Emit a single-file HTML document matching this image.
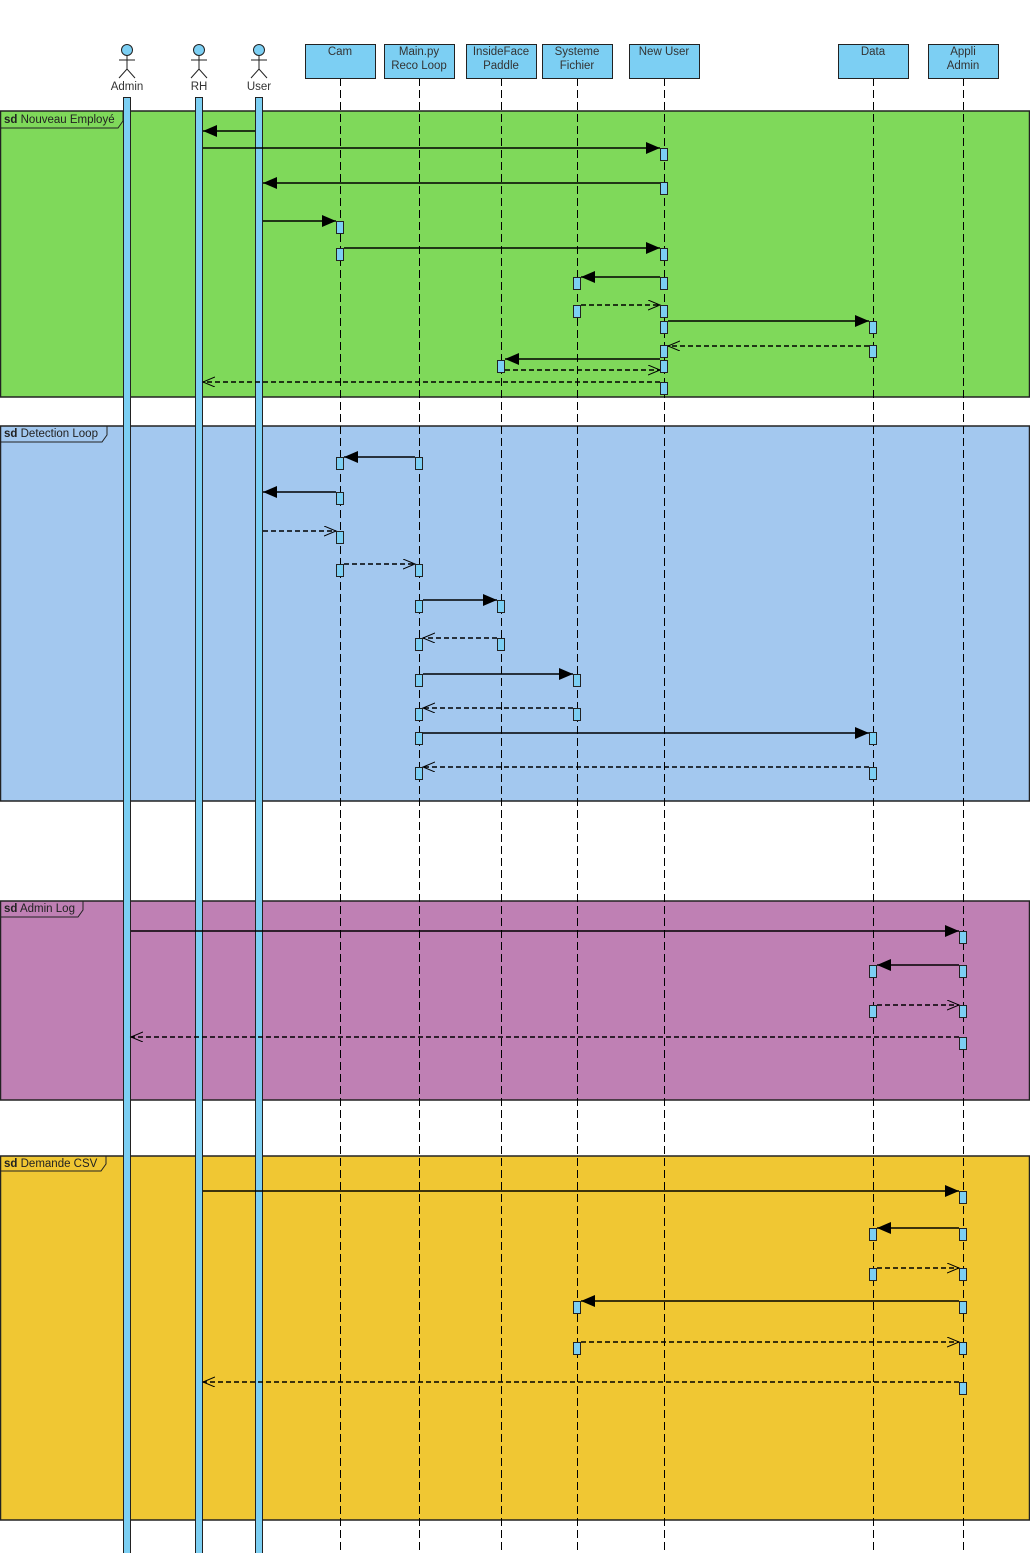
<!DOCTYPE html>
<html><head><meta charset="utf-8"><style>
html,body{margin:0;padding:0;background:#fff;}
svg{display:block;font-family:"Liberation Sans",Arial,sans-serif;}
</style></head><body>
<svg width="1030" height="1553" viewBox="0 0 1030 1553" xmlns="http://www.w3.org/2000/svg">
<defs>
<marker id="f" markerUnits="userSpaceOnUse" markerWidth="16" markerHeight="14" refX="14" refY="6" orient="auto"><path d="M0,0 L14,6 L0,12 z" fill="#000"/></marker>
<marker id="o" markerUnits="userSpaceOnUse" markerWidth="16" markerHeight="14" refX="12" refY="5" orient="auto"><path d="M0,0 L12,5 L0,10" fill="none" stroke="#000" stroke-width="1"/></marker>
</defs>
<rect x="0.5" y="111" width="1029" height="286" fill="#7fd95a" stroke="#222" stroke-width="1.5"/>
<rect x="0.5" y="426" width="1029" height="375" fill="#a3c8ef" stroke="#222" stroke-width="1.5"/>
<rect x="0.5" y="901" width="1029" height="199" fill="#bf80b4" stroke="#222" stroke-width="1.5"/>
<rect x="0.5" y="1156" width="1029" height="364" fill="#f0c733" stroke="#222" stroke-width="1.5"/>
<g fill="none" stroke="#222" stroke-width="1">
<path d="M0.5,128 H118 L123,121 V111"/>
<path d="M0.5,442 H102 L107,435 V426"/>
<path d="M0.5,917 H78 L83,910 V901"/>
<path d="M0.5,1171 H101 L106,1164 V1156"/>
</g>
<g font-size="11.5" fill="#222">
<text x="4" y="123"><tspan font-weight="bold">sd</tspan> Nouveau Employé</text>
<text x="4" y="437"><tspan font-weight="bold">sd</tspan> Detection Loop</text>
<text x="4" y="912"><tspan font-weight="bold">sd</tspan> Admin Log</text>
<text x="4" y="1167"><tspan font-weight="bold">sd</tspan> Demande CSV</text>
</g>
<g stroke="#000" stroke-width="1" stroke-dasharray="8,4">
<line x1="340.5" y1="78" x2="340.5" y2="1553"/>
<line x1="419.5" y1="78" x2="419.5" y2="1553"/>
<line x1="501.5" y1="78" x2="501.5" y2="1553"/>
<line x1="577.5" y1="78" x2="577.5" y2="1553"/>
<line x1="664.5" y1="78" x2="664.5" y2="1553"/>
<line x1="873.5" y1="78" x2="873.5" y2="1553"/>
<line x1="963.5" y1="78" x2="963.5" y2="1553"/>
</g>
<g fill="#7ccff3" stroke="#222" stroke-width="1">
<rect x="305.5" y="44.5" width="70" height="34"/>
<rect x="384.5" y="44.5" width="70" height="34"/>
<rect x="466.5" y="44.5" width="70" height="34"/>
<rect x="542.5" y="44.5" width="70" height="34"/>
<rect x="629.5" y="44.5" width="70" height="34"/>
<rect x="838.5" y="44.5" width="70" height="34"/>
<rect x="928.5" y="44.5" width="70" height="34"/>
</g>
<g font-size="11.5" fill="#333" text-anchor="middle">
<text x="340" y="55">Cam</text>
<text x="419" y="55">Main.py</text><text x="419" y="69">Reco Loop</text>
<text x="501" y="55">InsideFace</text><text x="501" y="69">Paddle</text>
<text x="577" y="55">Systeme</text><text x="577" y="69">Fichier</text>
<text x="664" y="55">New User</text>
<text x="873" y="55">Data</text>
<text x="963" y="55">Appli</text><text x="963" y="69">Admin</text>
<text x="127" y="90">Admin</text>
<text x="199" y="90">RH</text>
<text x="259" y="90">User</text>
</g>
<g stroke="#222" stroke-width="1" fill="#7ccff3">
<circle cx="127" cy="50" r="5.5"/><path d="M127,55.5 V69 M119,60 H135 M119,78 L127,69 L135,78" fill="none"/>
<circle cx="199" cy="50" r="5.5"/><path d="M199,55.5 V69 M191,60 H207 M191,78 L199,69 L207,78" fill="none"/>
<circle cx="259" cy="50" r="5.5"/><path d="M259,55.5 V69 M251,60 H267 M251,78 L259,69 L267,78" fill="none"/>
<rect x="123.5" y="97.5" width="7" height="1460"/>
<rect x="195.5" y="97.5" width="7" height="1460"/>
<rect x="255.5" y="97.5" width="7" height="1460"/>
</g>
<g stroke="#000" stroke-width="1.4" fill="none">
<line x1="255" y1="131" x2="203" y2="131" marker-end="url(#f)"/>
<line x1="203" y1="148" x2="660" y2="148" marker-end="url(#f)"/>
<line x1="660" y1="183" x2="263" y2="183" marker-end="url(#f)"/>
<line x1="263" y1="221" x2="336" y2="221" marker-end="url(#f)"/>
<line x1="344" y1="248" x2="660" y2="248" marker-end="url(#f)"/>
<line x1="660" y1="277" x2="581" y2="277" marker-end="url(#f)"/>
<line x1="581" y1="305" x2="660" y2="305" stroke-dasharray="5,3" marker-end="url(#o)"/>
<line x1="668" y1="321" x2="869" y2="321" marker-end="url(#f)"/>
<line x1="869" y1="346" x2="668" y2="346" stroke-dasharray="5,3" marker-end="url(#o)"/>
<line x1="660" y1="359" x2="505" y2="359" marker-end="url(#f)"/>
<line x1="505" y1="370" x2="660" y2="370" stroke-dasharray="5,3" marker-end="url(#o)"/>
<line x1="660" y1="382" x2="203" y2="382" stroke-dasharray="5,3" marker-end="url(#o)"/>
<line x1="415" y1="457" x2="344" y2="457" marker-end="url(#f)"/>
<line x1="336" y1="492" x2="263" y2="492" marker-end="url(#f)"/>
<line x1="263" y1="531" x2="336" y2="531" stroke-dasharray="5,3" marker-end="url(#o)"/>
<line x1="344" y1="564" x2="415" y2="564" stroke-dasharray="5,3" marker-end="url(#o)"/>
<line x1="423" y1="600" x2="497" y2="600" marker-end="url(#f)"/>
<line x1="497" y1="638" x2="423" y2="638" stroke-dasharray="5,3" marker-end="url(#o)"/>
<line x1="423" y1="674" x2="573" y2="674" marker-end="url(#f)"/>
<line x1="573" y1="708" x2="423" y2="708" stroke-dasharray="5,3" marker-end="url(#o)"/>
<line x1="423" y1="733" x2="869" y2="733" marker-end="url(#f)"/>
<line x1="869" y1="767" x2="423" y2="767" stroke-dasharray="5,3" marker-end="url(#o)"/>
<line x1="131" y1="931" x2="959" y2="931" marker-end="url(#f)"/>
<line x1="959" y1="965" x2="877" y2="965" marker-end="url(#f)"/>
<line x1="877" y1="1005" x2="959" y2="1005" stroke-dasharray="5,3" marker-end="url(#o)"/>
<line x1="959" y1="1037" x2="131" y2="1037" stroke-dasharray="5,3" marker-end="url(#o)"/>
<line x1="203" y1="1191" x2="959" y2="1191" marker-end="url(#f)"/>
<line x1="959" y1="1228" x2="877" y2="1228" marker-end="url(#f)"/>
<line x1="877" y1="1268" x2="959" y2="1268" stroke-dasharray="5,3" marker-end="url(#o)"/>
<line x1="959" y1="1301" x2="581" y2="1301" marker-end="url(#f)"/>
<line x1="581" y1="1342" x2="959" y2="1342" stroke-dasharray="5,3" marker-end="url(#o)"/>
<line x1="959" y1="1382" x2="203" y2="1382" stroke-dasharray="5,3" marker-end="url(#o)"/>
</g>
<g fill="#7ccff3" stroke="#222" stroke-width="1">
<rect x="660.5" y="148.5" width="7" height="12"/>
<rect x="660.5" y="182.5" width="7" height="12"/>
<rect x="336.5" y="221.5" width="7" height="12"/>
<rect x="336.5" y="248.5" width="7" height="12"/>
<rect x="660.5" y="248.5" width="7" height="12"/>
<rect x="573.5" y="277.5" width="7" height="12"/>
<rect x="660.5" y="277.5" width="7" height="12"/>
<rect x="573.5" y="305.5" width="7" height="12"/>
<rect x="660.5" y="305.5" width="7" height="12"/>
<rect x="660.5" y="321.5" width="7" height="12"/>
<rect x="869.5" y="321.5" width="7" height="12"/>
<rect x="869.5" y="345.5" width="7" height="12"/>
<rect x="660.5" y="345.5" width="7" height="12"/>
<rect x="497.5" y="360.5" width="7" height="12"/>
<rect x="660.5" y="360.5" width="7" height="12"/>
<rect x="660.5" y="382.5" width="7" height="12"/>
<rect x="336.5" y="457.5" width="7" height="12"/>
<rect x="415.5" y="457.5" width="7" height="12"/>
<rect x="336.5" y="492.5" width="7" height="12"/>
<rect x="336.5" y="531.5" width="7" height="12"/>
<rect x="336.5" y="564.5" width="7" height="12"/>
<rect x="415.5" y="564.5" width="7" height="12"/>
<rect x="415.5" y="600.5" width="7" height="12"/>
<rect x="497.5" y="600.5" width="7" height="12"/>
<rect x="415.5" y="638.5" width="7" height="12"/>
<rect x="497.5" y="638.5" width="7" height="12"/>
<rect x="415.5" y="674.5" width="7" height="12"/>
<rect x="573.5" y="674.5" width="7" height="12"/>
<rect x="415.5" y="708.5" width="7" height="12"/>
<rect x="573.5" y="708.5" width="7" height="12"/>
<rect x="415.5" y="732.5" width="7" height="12"/>
<rect x="869.5" y="732.5" width="7" height="12"/>
<rect x="415.5" y="767.5" width="7" height="12"/>
<rect x="869.5" y="767.5" width="7" height="12"/>
<rect x="959.5" y="931.5" width="7" height="12"/>
<rect x="869.5" y="965.5" width="7" height="12"/>
<rect x="959.5" y="965.5" width="7" height="12"/>
<rect x="869.5" y="1005.5" width="7" height="12"/>
<rect x="959.5" y="1005.5" width="7" height="12"/>
<rect x="959.5" y="1037.5" width="7" height="12"/>
<rect x="959.5" y="1191.5" width="7" height="12"/>
<rect x="869.5" y="1228.5" width="7" height="12"/>
<rect x="959.5" y="1228.5" width="7" height="12"/>
<rect x="869.5" y="1268.5" width="7" height="12"/>
<rect x="959.5" y="1268.5" width="7" height="12"/>
<rect x="573.5" y="1301.5" width="7" height="12"/>
<rect x="959.5" y="1301.5" width="7" height="12"/>
<rect x="573.5" y="1342.5" width="7" height="12"/>
<rect x="959.5" y="1342.5" width="7" height="12"/>
<rect x="959.5" y="1382.5" width="7" height="12"/>
</g>
</svg>
</body></html>
